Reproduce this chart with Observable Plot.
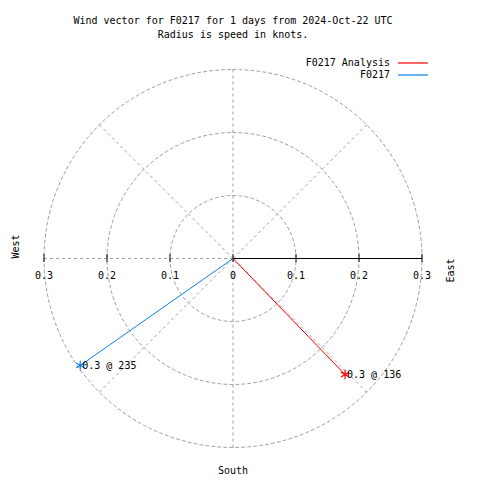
<!DOCTYPE html>
<html><head><meta charset="utf-8">
<script src="https://cdn.jsdelivr.net/npm/d3@7"></script>
<script src="https://cdn.jsdelivr.net/npm/@observablehq/plot@0.6"></script>
<style>body{margin:0;background:#fff}</style>
</head><body><div id="chart"></div>
<script>
const series = ["F0217 Analysis", "F0217"];
const speeds = [0.256, 0.296];
const directions = [136, 235];
const colors = ["#ff0000", "#0a80f0"];
const ringRadii = [0.1, 0.2, 0.3];
const spokeAngles = [0, 45, 90, 135, 180, 225, 270, 315];
const tickValues = [-0.3, -0.2, -0.1, 0, 0.1, 0.2, 0.3];
const tickLabels = ["0.3", "0.2", "0.1", "0", "0.1", "0.2", "0.3"];
const titleLines = ["Wind vector for F0217 for 1 days from 2024-Oct-22 UTC", "Radius is speed in knots."];
const compassLabels = ["West", "East", "South"];
const rMax = 0.3;

const rad = d => d * Math.PI / 180;
const vectors = series.map((s, i) => ({
  name: s, color: colors[i], speed: speeds[i], dir: directions[i],
  x: speeds[i] * Math.sin(rad(directions[i])),
  y: speeds[i] * Math.cos(rad(directions[i])),
  label: speeds[i].toFixed(1) + " @ " + directions[i]
}));
const rings = ringRadii.flatMap(r => d3.range(0, 361, 2).map(a => ({r, x: r * Math.sin(rad(a)), y: r * Math.cos(rad(a))})));
const spokes = spokeAngles.filter(a => a !== 90).map(a => ({x: rMax * Math.sin(rad(a)), y: rMax * Math.cos(rad(a))}));
const ticks = tickValues.map((v, i) => ({v, label: tickLabels[i]}));

const font = "DejaVu Sans Mono, Liberation Mono, monospace";
const grid = {stroke: "#a0a0a0", strokeDasharray: "3,3", strokeWidth: 1};

const chart = Plot.plot({
  width: 480, height: 480,
  marginLeft: 43.5, marginRight: 58.5, marginTop: 69, marginBottom: 33,
  x: {domain: [-rMax, rMax], axis: null},
  y: {domain: [-rMax, rMax], axis: null},
  style: {fontFamily: font, fontSize: "10px", background: "#fff", color: "#000"},
  marks: [
    Plot.line(rings, {x: "x", y: "y", z: "r", ...grid}),
    Plot.link(spokes, {x1: 0, y1: 0, x2: "x", y2: "y", ...grid}),
    Plot.link([ -rMax ], {x1: d => d, y1: 0, x2: 0, y2: 0, ...grid}),
    Plot.link([ rMax ], {x1: 0, y1: 0, x2: d => d, y2: 0, stroke: "#000", strokeWidth: 1.2}),
    Plot.ruleX(ticks, {x: "v", y1: 0, y2: 0, insetTop: -4, insetBottom: -4, stroke: "#000"}),
    Plot.text(ticks, {x: "v", y: 0, text: "label", dy: 17, fill: "#000"}),
    Plot.link(vectors, {x1: 0, y1: 0, x2: "x", y2: "y", stroke: "color", strokeWidth: 1}),
    Plot.dot(vectors, {x: "x", y: "y", symbol: "asterisk", r: 4.5, stroke: "color", strokeWidth: 1.2}),
    Plot.text(vectors, {x: "x", y: "y", text: "label", textAnchor: "start", dx: 2, fill: "#000"}),
    Plot.text([titleLines[0]], {frameAnchor: "top", text: d => d, lineAnchor: "middle", dy: -48.5, fill: "#000"}),
    Plot.text([titleLines[1]], {frameAnchor: "top", text: d => d, lineAnchor: "middle", dy: -35, fill: "#000"}),
    Plot.text([compassLabels[0]], {frameAnchor: "left", text: d => d, rotate: -90, dx: -28, fill: "#000"}),
    Plot.text([compassLabels[1]], {frameAnchor: "right", text: d => d, rotate: -90, dx: 29, fill: "#000"}),
    Plot.text([compassLabels[2]], {frameAnchor: "bottom", text: d => d, lineAnchor: "middle", dy: 23, fill: "#000"}),
    Plot.text(vectors, {frameAnchor: "top-right", text: "name", textAnchor: "end", fill: "#000", className: "legend-text"})
  ]
});
document.getElementById("chart").append(chart);

// legend: position entries and sample lines
const svg = d3.select(chart);
const legendGroup = svg.selectAll("g[aria-label=text]").filter((d, i, n) => i === n.length - 1);
legendGroup.attr("transform", null);
legendGroup.selectAll("text").each(function(d, i) {
  d3.select(this).attr("transform", null).attr("x", 390).attr("y", 63 + i * 12).attr("dy", "0.32em");
});
const lg = svg.append("g");
vectors.forEach((v, i) => {
  lg.append("line").attr("x1", 398).attr("x2", 428).attr("y1", 63 + i * 12).attr("y2", 63 + i * 12)
    .attr("stroke", v.color).attr("stroke-width", 1.2);
});
</script>
</body></html>
